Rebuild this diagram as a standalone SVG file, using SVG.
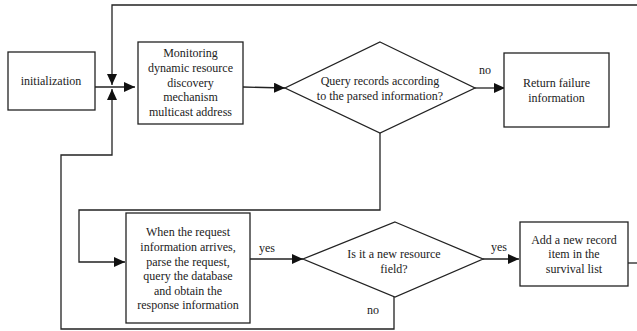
<svg xmlns="http://www.w3.org/2000/svg" width="637" height="331" viewBox="0 0 637 331" font-family="'Liberation Serif', 'DejaVu Serif', serif">
  <style>
    .box { fill: #fff; stroke: #222; stroke-width: 1.3; }
    .wire { fill: none; stroke: #222; stroke-width: 1.3; }
    text { font-family: "Liberation Serif", "Times New Roman", serif; font-size: 12px; fill: #222; text-anchor: middle; }
  </style>
  <defs>
    <marker id="arrow" markerUnits="userSpaceOnUse" markerWidth="12" markerHeight="10" refX="11" refY="5" orient="auto">
      <path d="M0,0 L11,5 L0,10 z" fill="#111"/>
    </marker>
  </defs>
  <rect width="637" height="331" fill="#fff"/>

  <g id="connectors">
    <path class="wire" d="M95,87 H135" marker-end="url(#arrow)"/>
    <path class="wire" d="M637,5 H112 V85" marker-end="url(#arrow)"/>
    <path class="wire" d="M628,263 H637"/>
    <path class="wire" d="M394,297 V329 H61 V155 H112 V89" marker-end="url(#arrow)"/>
    <path class="wire" d="M243,87 L285,88" marker-end="url(#arrow)"/>
    <path class="wire" d="M475,88 H505" marker-end="url(#arrow)"/>
    <path class="wire" d="M380,133 V210 H79 V262 H125" marker-end="url(#arrow)"/>
    <path class="wire" d="M250,259 H303" marker-end="url(#arrow)"/>
    <path class="wire" d="M483,259 H519" marker-end="url(#arrow)"/>
    <text x="485" y="74">no</text>
    <text x="267" y="252">yes</text>
    <text x="499" y="251">yes</text>
    <text x="373" y="314">no</text>
  </g>

  <g id="init">
    <rect class="box" x="8" y="52" width="87" height="58"/>
    <text x="51" y="85">initialization</text>
  </g>

  <g id="monitor">
    <rect class="box" x="138" y="42" width="105" height="82"/>
    <text x="190.5" y="57">Monitoring</text>
    <text x="190.5" y="72">dynamic resource</text>
    <text x="190.5" y="87">discovery</text>
    <text x="190.5" y="101">mechanism</text>
    <text x="190.5" y="116">multicast address</text>
  </g>

  <g id="query-decision">
    <polygon class="box" points="380,42 475,88 380,133 285,88"/>
    <text x="380" y="85">Query records according</text>
    <text x="380" y="100">to the parsed information?</text>
  </g>

  <g id="return-failure">
    <rect class="box" x="504" y="53" width="105" height="74"/>
    <text x="556.5" y="87">Return failure</text>
    <text x="556.5" y="102">information</text>
  </g>

  <g id="handle-request">
    <rect class="box" x="126" y="213" width="124" height="110"/>
    <text x="188" y="236">When the request</text>
    <text x="188" y="251">information arrives,</text>
    <text x="188" y="266">parse the request,</text>
    <text x="188" y="280">query the database</text>
    <text x="188" y="295">and obtain the</text>
    <text x="188" y="309">response information</text>
  </g>

  <g id="new-resource-decision">
    <polygon class="box" points="395,222 483,259 395,297 303,259"/>
    <text x="394" y="258">Is it a new resource</text>
    <text x="394" y="273">field?</text>
  </g>

  <g id="add-record">
    <rect class="box" x="520" y="222" width="108" height="64"/>
    <text x="574" y="244">Add a new record</text>
    <text x="574" y="258">item in the</text>
    <text x="574" y="273">survival list</text>
  </g>
</svg>
